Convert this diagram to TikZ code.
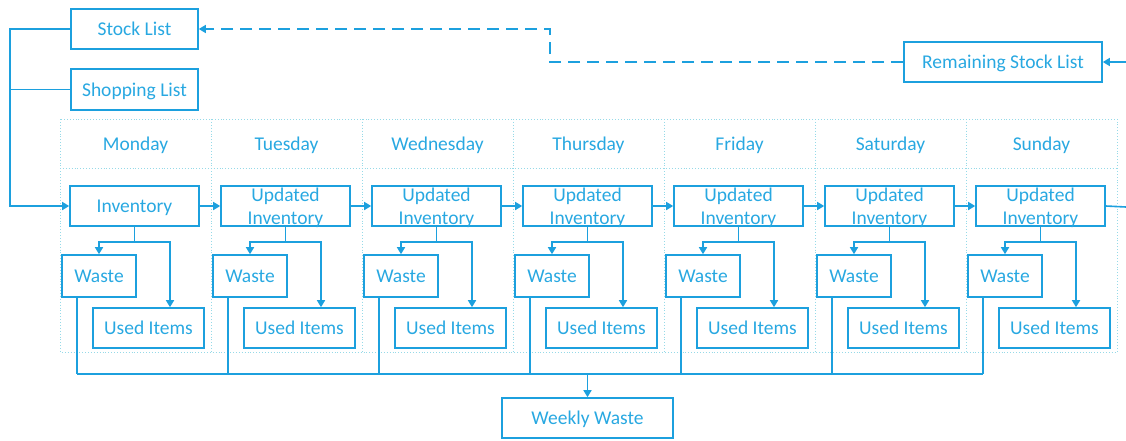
\documentclass[tikz,border=0pt]{standalone}
\usepackage{fontspec}
\setmainfont{Carlito}
\usetikzlibrary{arrows.meta}
\definecolor{ln}{RGB}{28,160,222}
\definecolor{tx}{RGB}{40,168,225}
\definecolor{gridc}{RGB}{150,218,232}
\tikzset{
  box/.style={draw=ln, line width=1.6pt, inner sep=0pt, text=tx, font=\fontsize{19.5}{23}\selectfont, text height=13pt, text depth=0pt},
  lbl/.style={text=tx, font=\fontsize{19.5}{23}\selectfont, inner sep=0pt, text height=13pt, text depth=0pt},
  lbltwo/.style={text=tx, font=\fontsize{19.5}{23.5}\selectfont, align=center, inner sep=0pt},
  conn/.style={draw=ln, line width=1.6pt, -{Triangle[length=7pt,width=8pt]}},
  plain/.style={draw=ln, line width=1.6pt},
  gridl/.style={draw=gridc, line width=0.9pt, dotted}
}
\begin{document}
\begin{tikzpicture}[x=1pt,y=-1pt]
\useasboundingbox (0,0) rectangle (1126,440);
% grid
\draw[gridl] (60,119) rectangle (1117,352);
\draw[gridl] (60,168) -- (1117,168);
\foreach \i in {1,...,6} \draw[gridl] ({60+151*\i},119) -- ({60+151*\i},352);
\foreach \d [count=\i from 0] in {Monday,Tuesday,Wednesday,Thursday,Friday,Saturday,Sunday}
  \node[lbl] (day\i) at ({135.5+151*\i},144) {\d};
% top lists
\node[box, minimum width=127pt, minimum height=40pt] (stock) at (134.5,29) {Stock List};
\node[box, minimum width=127pt, minimum height=41pt] (shop) at (134.5,89.5) {Shopping List};
\node[box, minimum width=198pt, minimum height=40pt] (rsl) at (1003,62) {Remaining Stock List};
\node[box, minimum width=171pt, minimum height=40pt] (ww) at (587.5,418) {Weekly Waste};
% day columns
\foreach \i in {0,...,6} {
  \ifnum\i=0
    \node[box, minimum width=129pt, minimum height=40pt] (inv\i) at ({134.5+151*\i},206) {Inventory};
  \else
    \node[box, minimum width=129pt, minimum height=40pt] (inv\i) at ({134.5+151*\i},206) {};
    \node[lbltwo] (invt\i) at ([yshift=-2pt]inv\i.center) {Updated\\Inventory};
  \fi
  \node[box, minimum width=74pt, minimum height=42pt] (w\i) at ({99+151*\i},276) {Waste};
  \node[box, minimum width=111pt, minimum height=40pt] (u\i) at ({148.5+151*\i},328) {Used Items};
  \draw[plain] (inv\i.south) -- ++(0,15) coordinate (b\i);
  \draw[conn] (b\i) -| (w\i.north);
  \draw[conn] (b\i) -| ([xshift=21.5pt]u\i.north);
  \coordinate (d\i) at ({77+151*\i},374);
  \draw[plain] ([xshift=-22pt]w\i.south) -- (d\i);
}
\foreach \i [evaluate=\i as \j using int(\i+1)] in {0,...,5}
  \draw[conn] (inv\i.east) -- (inv\j.west);
\draw[plain] (d0) -- (d6);
\draw[conn] (ww.north |- d0) -- (ww.north);
% left feed
\coordinate (L) at (10,0);
\draw[conn] (stock.west) -| (L |- inv0.west) -- (inv0.west);
\draw[plain] (shop.west) -- (shop.west -| L);
% right side
\coordinate (R1) at (1126,207);
\coordinate (R2) at (1126,62);
\draw[plain] (inv6.east) -- (R1);
\draw[conn] (R2) -- (rsl.east);
% dashed return
\coordinate (D) at (550,0);
\draw[conn, dash pattern=on 12pt off 7pt] (rsl.west) -- (rsl.west -| D) |- (stock.east);
\end{tikzpicture}
\end{document}
